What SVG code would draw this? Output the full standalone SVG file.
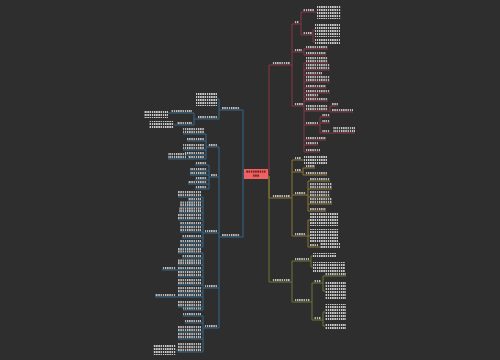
<svg xmlns="http://www.w3.org/2000/svg" width="500" height="360" viewBox="0 0 500 360">
<defs>
<pattern id="tv" patternUnits="userSpaceOnUse" width="2.2" height="50"><rect width="1.3" height="50" fill="#c8c8c8"/></pattern>
<pattern id="tb" patternUnits="userSpaceOnUse" width="2.2" height="3"><rect width="1.4" height="2" fill="#d0d0d0"/></pattern>
<pattern id="tc" patternUnits="userSpaceOnUse" width="2.2" height="50"><rect width="1.6" height="50" fill="#7a2222"/></pattern>
</defs>
<style>
.t{fill:url(#tv)}
.b{fill:url(#tb)}
path{fill:none;stroke-width:1}
.cr,.ur{stroke:#8a3747}
.co,.uo{stroke:#8a7434}
.cg,.ug{stroke:#6c7833}
.cb,.ub{stroke:#35678a}
</style>
<rect width="500" height="360" fill="#2e2e2e"/>
<g id="connectors">
<path class="cg" d="M268,176H269V282H272M290,282H292M292,261V302M292,261H295M292,302H295M309,261H311M311,256V267M311,256H313M311,267H313M310,302H312M312,283V320M312,283H314M312,320H314M321,283H323M323,276V291M323,276H325M323,291H325M321,320H323M323,312V326M323,312H325M323,326H325"/>
<path class="co" d="M268,176H269V198H272M290,198H292M292,160V236M292,160H295M292,172H295M292,195H295M292,236H295M301,160H304M301,172H303M303,168V175M303,168H305M303,175H305M306,195H308M308,181V211M308,181H310M308,189H310M308,197H310M308,204H310M308,211H310M306,236H308M308,220V247M308,220H310M308,236H310M308,247H310M318,247H320"/>
<path class="cr" d="M268,174H269V65H272M290,65H292M292,24V106M292,24H294M292,52H294M292,106H294M299,24H301M301,12V35M301,12H303M301,35H303M314,12H317M312,35H313M313,30V42M313,30H315M313,42H315M302,52H304M304,49V55M304,49H306M304,55H306M303,106H304M304,63V152M304,63H306M304,70H306M304,75H306M304,82H306M304,88H306M304,93H306M304,97H306M304,101H306M304,111H306M304,125H306M304,140H306M304,145H306M304,152H306M328,111H330M330,106V112M330,106H332M330,112H332M318,125H320M320,117V133M320,117H322M320,123H322M320,133H322M330,133H333"/>
<path class="cb" d="M245,174H243V110H240M243,174V237H240M222,110H219M219,99V119M219,99H217M219,119H217M198,119H194M194,113V125M194,113H192M194,125H192M171,113H168M177,125H174M222,237H219M219,147V328M219,147H217M219,177H217M219,233H217M219,288H217M219,328H217M208,147H206M206,134V159M206,134H204M206,141H204M206,150H204M206,155H204M206,159H204M188,159H186M211,177H209M209,165V189M209,165H207M209,171H207M209,175H207M209,180H207M209,184H207M209,189H207M205,233H203M203,197V247M203,197H201M203,201H201M203,207H201M203,213H201M203,220H201M203,225H201M203,232H201M203,238H201M203,243H201M203,247H201M205,288H203M203,253V310M203,253H201M203,258H201M203,265H201M203,270H201M203,277H201M203,285H201M203,293H201M203,297H201M203,307H201M203,310H201M178,270H176M178,297H176M205,328H203M203,316V352M203,316H201M203,323H201M203,332H201M203,339H201M203,352H201M178,350H176"/>
</g>
<g id="center"><rect x="244" y="169" width="24" height="10" fill="#ee6262"/><rect x="246" y="170.5" width="20" height="2.2" fill="url(#tc)"/><rect x="253" y="174.5" width="6" height="2.2" fill="url(#tc)"/></g>
<g id="r1"><rect class="t" x="272" y="62" width="18" height="2.2"/><path class="ur" d="M272,65H290"/></g>
<g id="r1a"><rect class="t" x="294" y="21" width="5" height="2.2"/><path class="ur" d="M294,24H299"/></g>
<g id="r1a1"><rect class="t" x="303" y="9" width="11" height="2.2"/><path class="ur" d="M303,12H314"/></g>
<g id="r1a1b"><rect class="b" x="317" y="5" width="24" height="14"/></g>
<g id="r1a2"><rect class="t" x="303" y="32" width="9" height="2.2"/><path class="ur" d="M303,35H312"/></g>
<g id="r1a2a"><rect class="b" x="315" y="23" width="25" height="14"/></g>
<g id="r1a2b"><rect class="b" x="315" y="39" width="25" height="6"/></g>
<g id="r1b"><rect class="t" x="294" y="49" width="8" height="2.2"/><path class="ur" d="M294,52H302"/></g>
<g id="r1b1"><rect class="t" x="306" y="46" width="22" height="2.2"/><path class="ur" d="M306,49H328"/></g>
<g id="r1b2"><rect class="t" x="306" y="52" width="20" height="2.2"/><path class="ur" d="M306,55H326"/></g>
<g id="r1c"><rect class="t" x="294" y="103" width="9" height="2.2"/><path class="ur" d="M294,106H303"/></g>
<g id="r1c1"><rect class="t" x="306" y="57" width="22" height="2.2"/><rect class="t" x="306" y="60" width="22" height="2.2"/><path class="ur" d="M306,63H328"/></g>
<g id="r1c2"><rect class="t" x="306" y="64" width="24" height="2.2"/><rect class="t" x="306" y="67" width="24" height="2.2"/><path class="ur" d="M306,70H330"/></g>
<g id="r1c3"><rect class="t" x="306" y="72" width="16" height="2.2"/><path class="ur" d="M306,75H322"/></g>
<g id="r1c4"><rect class="t" x="306" y="76" width="24" height="2.2"/><rect class="t" x="306" y="79" width="24" height="2.2"/><path class="ur" d="M306,82H330"/></g>
<g id="r1c5"><rect class="t" x="306" y="85" width="20" height="2.2"/><path class="ur" d="M306,88H326"/></g>
<g id="r1c6"><rect class="t" x="306" y="90" width="24" height="2.2"/><path class="ur" d="M306,93H330"/></g>
<g id="r1c7"><rect class="t" x="306" y="94" width="12" height="2.2"/><path class="ur" d="M306,97H318"/></g>
<g id="r1c8"><rect class="t" x="306" y="98" width="22" height="2.2"/><path class="ur" d="M306,101H328"/></g>
<g id="r1c9"><rect class="t" x="306" y="105" width="22" height="2.2"/><rect class="t" x="306" y="108" width="22" height="2.2"/><path class="ur" d="M306,111H328"/></g>
<g id="r1c9a"><rect class="t" x="332" y="103" width="6" height="2.2"/><path class="ur" d="M332,106H338"/></g>
<g id="r1c9b"><rect class="t" x="332" y="109" width="21" height="2.2"/><path class="ur" d="M332,112H353"/></g>
<g id="r1c10"><rect class="t" x="306" y="122" width="12" height="2.2"/><path class="ur" d="M306,125H318"/></g>
<g id="r1c10a"><rect class="t" x="322" y="114" width="8" height="2.2"/><path class="ur" d="M322,117H330"/></g>
<g id="r1c10b"><rect class="t" x="322" y="120" width="8" height="2.2"/><path class="ur" d="M322,123H330"/></g>
<g id="r1c10c"><rect class="t" x="322" y="130" width="8" height="2.2"/><path class="ur" d="M322,133H330"/></g>
<g id="r1c10c1"><rect class="t" x="333" y="127" width="22" height="2.2"/><rect class="t" x="333" y="130" width="22" height="2.2"/><path class="ur" d="M333,133H355"/></g>
<g id="r1c11"><rect class="t" x="306" y="137" width="20" height="2.2"/><path class="ur" d="M306,140H326"/></g>
<g id="r1c12"><rect class="t" x="306" y="142" width="12" height="2.2"/><path class="ur" d="M306,145H318"/></g>
<g id="r1c13"><rect class="t" x="306" y="149" width="14" height="2.2"/><path class="ur" d="M306,152H320"/></g>
<g id="r2"><rect class="t" x="272" y="195" width="18" height="2.2"/><path class="uo" d="M272,198H290"/></g>
<g id="r2a"><rect class="t" x="295" y="157" width="6" height="2.2"/><path class="uo" d="M295,160H301"/></g>
<g id="r2a1"><rect class="b" x="304" y="155" width="23" height="10"/></g>
<g id="r2b"><rect class="t" x="295" y="169" width="6" height="2.2"/><path class="uo" d="M295,172H301"/></g>
<g id="r2b1"><rect class="t" x="305" y="165" width="10" height="2.2"/><path class="uo" d="M305,168H315"/></g>
<g id="r2b2"><rect class="t" x="305" y="172" width="22" height="2.2"/><path class="uo" d="M305,175H327"/></g>
<g id="r2c"><rect class="t" x="295" y="192" width="11" height="2.2"/><path class="uo" d="M295,195H306"/></g>
<g id="r2c1"><rect class="t" x="310" y="178" width="20" height="2.2"/><path class="uo" d="M310,181H330"/></g>
<g id="r2c2"><rect class="t" x="310" y="183" width="22" height="2.2"/><rect class="t" x="310" y="186" width="22" height="2.2"/><path class="uo" d="M310,189H332"/></g>
<g id="r2c3"><rect class="t" x="310" y="191" width="20" height="2.2"/><rect class="t" x="310" y="194" width="20" height="2.2"/><path class="uo" d="M310,197H330"/></g>
<g id="r2c4"><rect class="t" x="310" y="198" width="22" height="2.2"/><rect class="t" x="310" y="201" width="22" height="2.2"/><path class="uo" d="M310,204H332"/></g>
<g id="r2c5"><rect class="t" x="310" y="208" width="16" height="2.2"/><path class="uo" d="M310,211H326"/></g>
<g id="r2d"><rect class="t" x="295" y="233" width="11" height="2.2"/><path class="uo" d="M295,236H306"/></g>
<g id="r2d1"><rect class="b" x="310" y="213" width="28" height="13"/></g>
<g id="r2d2"><rect class="b" x="310" y="229" width="28" height="13"/></g>
<g id="r2d3"><rect class="t" x="310" y="244" width="8" height="2.2"/><path class="uo" d="M310,247H318"/></g>
<g id="r2d3a"><rect class="b" x="320" y="243" width="20" height="6"/></g>
<g id="r3"><rect class="t" x="272" y="279" width="18" height="2.2"/><path class="ug" d="M272,282H290"/></g>
<g id="r3a"><rect class="t" x="295" y="258" width="14" height="2.2"/><path class="ug" d="M295,261H309"/></g>
<g id="r3a1"><rect class="b" x="313" y="253" width="23" height="5"/></g>
<g id="r3a2"><rect class="b" x="313" y="262" width="32" height="10"/></g>
<g id="r3b"><rect class="t" x="295" y="299" width="15" height="2.2"/><path class="ug" d="M295,302H310"/></g>
<g id="r3b1"><rect class="t" x="314" y="280" width="7" height="2.2"/><path class="ug" d="M314,283H321"/></g>
<g id="r3b1a"><rect class="t" x="325" y="273" width="21" height="2.2"/><path class="ug" d="M325,276H346"/></g>
<g id="r3b1b"><rect class="b" x="325" y="281" width="21" height="19"/></g>
<g id="r3b2"><rect class="t" x="314" y="317" width="7" height="2.2"/><path class="ug" d="M314,320H321"/></g>
<g id="r3b2a"><rect class="b" x="325" y="304" width="21" height="16"/></g>
<g id="r3b2b"><rect class="b" x="325" y="323" width="21" height="6"/></g>
<g id="l1"><rect class="t" x="222" y="107" width="18" height="2.2"/><path class="ub" d="M222,110H240"/></g>
<g id="l1a"><rect class="b" x="196" y="92" width="21" height="14"/></g>
<g id="l1b"><rect class="t" x="198" y="116" width="19" height="2.2"/><path class="ub" d="M198,119H217"/></g>
<g id="l1b1"><rect class="t" x="171" y="110" width="21" height="2.2"/><path class="ub" d="M171,113H192"/></g>
<g id="l1b1a"><rect class="b" x="144" y="110" width="24" height="8"/></g>
<g id="l1b2"><rect class="t" x="177" y="122" width="15" height="2.2"/><path class="ub" d="M177,125H192"/></g>
<g id="l1b2a"><rect class="b" x="149" y="121" width="25" height="8"/></g>
<g id="l2"><rect class="t" x="222" y="234" width="18" height="2.2"/><path class="ub" d="M222,237H240"/></g>
<g id="l2a"><rect class="t" x="208" y="144" width="9" height="2.2"/><path class="ub" d="M208,147H217"/></g>
<g id="l2a1"><rect class="t" x="183" y="128" width="21" height="2.2"/><rect class="t" x="183" y="131" width="21" height="2.2"/><path class="ub" d="M183,134H204"/></g>
<g id="l2a2"><rect class="t" x="187" y="138" width="17" height="2.2"/><path class="ub" d="M187,141H204"/></g>
<g id="l2a3"><rect class="t" x="183" y="144" width="21" height="2.2"/><rect class="t" x="183" y="147" width="21" height="2.2"/><path class="ub" d="M183,150H204"/></g>
<g id="l2a4"><rect class="t" x="185" y="152" width="19" height="2.2"/><path class="ub" d="M185,155H204"/></g>
<g id="l2a5"><rect class="t" x="188" y="156" width="16" height="2.2"/><path class="ub" d="M188,159H204"/></g>
<g id="l2a5a"><rect class="t" x="168" y="153" width="18" height="2.2"/><rect class="t" x="168" y="156" width="18" height="2.2"/><path class="ub" d="M168,159H186"/></g>
<g id="l2b"><rect class="t" x="211" y="174" width="6" height="2.2"/><path class="ub" d="M211,177H217"/></g>
<g id="l2b1"><rect class="t" x="195" y="162" width="12" height="2.2"/><path class="ub" d="M195,165H207"/></g>
<g id="l2b2"><rect class="t" x="190" y="168" width="17" height="2.2"/><path class="ub" d="M190,171H207"/></g>
<g id="l2b3"><rect class="t" x="190" y="172" width="17" height="2.2"/><path class="ub" d="M190,175H207"/></g>
<g id="l2b4"><rect class="t" x="195" y="177" width="12" height="2.2"/><path class="ub" d="M195,180H207"/></g>
<g id="l2b5"><rect class="t" x="188" y="181" width="19" height="2.2"/><path class="ub" d="M188,184H207"/></g>
<g id="l2b6"><rect class="t" x="195" y="186" width="12" height="2.2"/><path class="ub" d="M195,189H207"/></g>
<g id="l2c"><rect class="t" x="205" y="230" width="12" height="2.2"/><path class="ub" d="M205,233H217"/></g>
<g id="l2c1"><rect class="t" x="178" y="191" width="23" height="2.2"/><rect class="t" x="178" y="194" width="23" height="2.2"/><path class="ub" d="M178,197H201"/></g>
<g id="l2c2"><rect class="t" x="188" y="198" width="13" height="2.2"/><path class="ub" d="M188,201H201"/></g>
<g id="l2c3"><rect class="t" x="180" y="201.5" width="21" height="2.2"/><rect class="t" x="180" y="204" width="21" height="2.2"/><path class="ub" d="M180,207H201"/></g>
<g id="l2c4"><rect class="t" x="179" y="207.5" width="22" height="2.2"/><rect class="t" x="179" y="210" width="22" height="2.2"/><path class="ub" d="M179,213H201"/></g>
<g id="l2c5"><rect class="t" x="178" y="214" width="23" height="2.2"/><rect class="t" x="178" y="217" width="23" height="2.2"/><path class="ub" d="M178,220H201"/></g>
<g id="l2c6"><rect class="t" x="180" y="222" width="21" height="2.2"/><path class="ub" d="M180,225H201"/></g>
<g id="l2c7"><rect class="t" x="180" y="226" width="21" height="2.2"/><rect class="t" x="180" y="229" width="21" height="2.2"/><path class="ub" d="M180,232H201"/></g>
<g id="l2c8"><rect class="t" x="182" y="235" width="19" height="2.2"/><path class="ub" d="M182,238H201"/></g>
<g id="l2c9"><rect class="t" x="180" y="240" width="21" height="2.2"/><path class="ub" d="M180,243H201"/></g>
<g id="l2c10"><rect class="t" x="180" y="244" width="21" height="2.2"/><path class="ub" d="M180,247H201"/></g>
<g id="l2d"><rect class="t" x="205" y="285" width="12" height="2.2"/><path class="ub" d="M205,288H217"/></g>
<g id="l2d1"><rect class="t" x="178" y="248" width="23" height="2.2"/><rect class="t" x="178" y="250.5" width="23" height="2.2"/><path class="ub" d="M178,253H201"/></g>
<g id="l2d2"><rect class="t" x="182" y="255" width="19" height="2.2"/><path class="ub" d="M182,258H201"/></g>
<g id="l2d3"><rect class="t" x="178" y="259.5" width="23" height="2.2"/><rect class="t" x="178" y="262" width="23" height="2.2"/><path class="ub" d="M178,265H201"/></g>
<g id="l2d4"><rect class="t" x="178" y="267" width="23" height="2.2"/><path class="ub" d="M178,270H201"/></g>
<g id="l2d4a"><rect class="t" x="162" y="267" width="14" height="2.2"/><path class="ub" d="M162,270H176"/></g>
<g id="l2d5"><rect class="t" x="178" y="271" width="23" height="2.2"/><rect class="t" x="178" y="274" width="23" height="2.2"/><path class="ub" d="M178,277H201"/></g>
<g id="l2d6"><rect class="t" x="178" y="279" width="23" height="2.2"/><rect class="t" x="178" y="282" width="23" height="2.2"/><path class="ub" d="M178,285H201"/></g>
<g id="l2d7"><rect class="t" x="178" y="287" width="23" height="2.2"/><rect class="t" x="178" y="290" width="23" height="2.2"/><path class="ub" d="M178,293H201"/></g>
<g id="l2d8"><rect class="t" x="178" y="294" width="23" height="2.2"/><path class="ub" d="M178,297H201"/></g>
<g id="l2d8a"><rect class="t" x="155" y="294" width="21" height="2.2"/><path class="ub" d="M155,297H176"/></g>
<g id="l2d9"><rect class="t" x="178" y="301" width="23" height="2.2"/><rect class="t" x="178" y="304" width="23" height="2.2"/><path class="ub" d="M178,307H201"/></g>
<g id="l2d10"><rect class="t" x="183" y="307.5" width="18" height="2.2"/><path class="ub" d="M183,310H201"/></g>
<g id="l2e"><rect class="t" x="205" y="325" width="12" height="2.2"/><path class="ub" d="M205,328H217"/></g>
<g id="l2e1"><rect class="t" x="183" y="313" width="18" height="2.2"/><path class="ub" d="M183,316H201"/></g>
<g id="l2e2"><rect class="t" x="185" y="320" width="16" height="2.2"/><path class="ub" d="M185,323H201"/></g>
<g id="l2e3"><rect class="t" x="178" y="326" width="23" height="2.2"/><rect class="t" x="178" y="329" width="23" height="2.2"/><path class="ub" d="M178,332H201"/></g>
<g id="l2e4"><rect class="t" x="178" y="333" width="23" height="2.2"/><rect class="t" x="178" y="336" width="23" height="2.2"/><path class="ub" d="M178,339H201"/></g>
<g id="l2e5"><rect class="t" x="178" y="343" width="23" height="2.2"/><rect class="t" x="178" y="346" width="23" height="2.2"/><rect class="t" x="178" y="349" width="23" height="2.2"/><path class="ub" d="M178,352H201"/></g>
<g id="l2e5a"><rect class="b" x="153" y="345" width="23" height="10"/></g>
</svg>
